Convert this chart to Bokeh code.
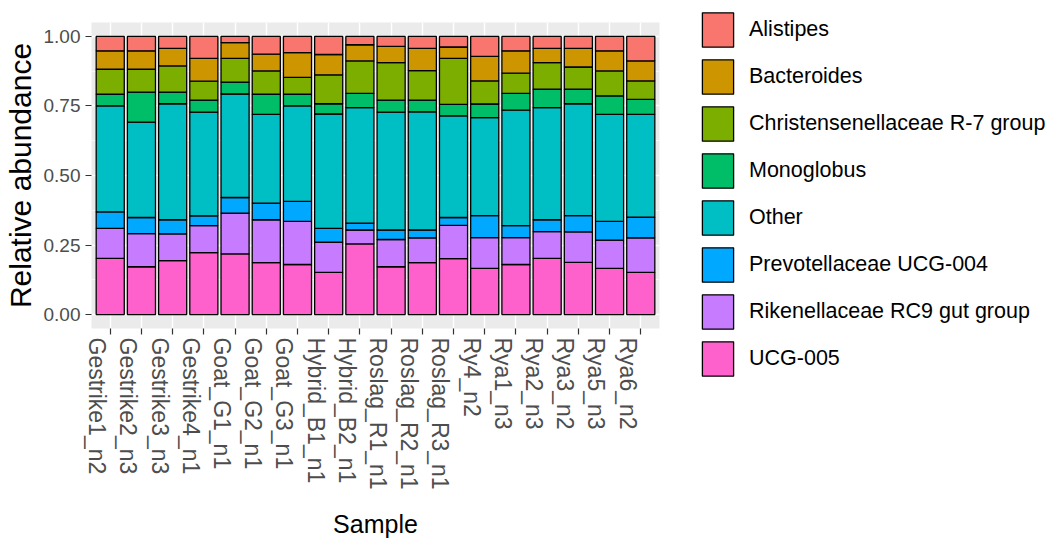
import math
from bokeh.plotting import figure
from bokeh.models import (ColumnDataSource, Range1d, FixedTicker, LinearAxis,
                          Legend, LegendItem, PrintfTickFormatter)
from bokeh.embed import file_html
from bokeh.resources import INLINE

samples = ["Gestrike1_n2", "Gestrike2_n3", "Gestrike3_n3", "Gestrike4_n1",
           "Goat_G1_n1", "Goat_G2_n1", "Goat_G3_n1", "Hybrid_B1_n1", "Hybrid_B2_n1",
           "Roslag_R1_n1", "Roslag_R2_n1", "Roslag_R3_n1", "Ry4_n2", "Rya1_n3",
           "Rya2_n3", "Rya3_n2", "Rya5_n3", "Rya6_n2"]

# stack order: bottom -> top
ucg005 = [0.202, 0.172, 0.194, 0.223, 0.218, 0.187, 0.180, 0.152, 0.254,
          0.172, 0.187, 0.201, 0.166, 0.180, 0.202, 0.188, 0.166, 0.152]
rikenellaceae = [0.108, 0.119, 0.096, 0.097, 0.147, 0.154, 0.155, 0.108, 0.050,
                 0.098, 0.089, 0.120, 0.111, 0.097, 0.096, 0.109, 0.102, 0.124]
prevotellaceae = [0.059, 0.058, 0.051, 0.035, 0.056, 0.060, 0.072, 0.050, 0.025,
                  0.034, 0.028, 0.028, 0.079, 0.043, 0.043, 0.059, 0.067, 0.074]
other = [0.381, 0.343, 0.417, 0.373, 0.372, 0.319, 0.343, 0.411, 0.415,
         0.424, 0.425, 0.365, 0.352, 0.415, 0.403, 0.402, 0.385, 0.370]
monoglobus = [0.042, 0.108, 0.042, 0.043, 0.043, 0.072, 0.042, 0.037, 0.051,
              0.043, 0.042, 0.042, 0.049, 0.060, 0.066, 0.052, 0.066, 0.054]
christensenellaceae = [0.090, 0.082, 0.094, 0.068, 0.085, 0.084, 0.061, 0.104, 0.117,
                       0.135, 0.106, 0.165, 0.083, 0.073, 0.096, 0.080, 0.090, 0.066]
bacteroides = [0.066, 0.066, 0.063, 0.082, 0.057, 0.060, 0.089, 0.073, 0.058,
               0.058, 0.080, 0.041, 0.088, 0.080, 0.051, 0.067, 0.072, 0.072]
alistipes = [0.052, 0.052, 0.043, 0.079, 0.022, 0.064, 0.058, 0.065, 0.030,
             0.036, 0.043, 0.038, 0.072, 0.052, 0.043, 0.043, 0.052, 0.088]

genera = ["UCG-005", "Rikenellaceae RC9 gut group", "Prevotellaceae UCG-004", "Other",
          "Monoglobus", "Christensenellaceae R-7 group", "Bacteroides", "Alistipes"]
series = [ucg005, rikenellaceae, prevotellaceae, other, monoglobus,
          christensenellaceae, bacteroides, alistipes]
colors = ["#FF61CC", "#C77CFF", "#00A9FF", "#00BFC4", "#00BE67", "#7CAE00",
          "#CD9600", "#F8766D"]

y_ticks = [0.0, 0.25, 0.5, 0.75, 1.0]
y_minor = [0.125, 0.375, 0.625, 0.875]

xs = list(range(1, len(samples) + 1))
keys = ["s%d" % i for i in range(len(genera))]
data = {"x": xs}
for k, s in zip(keys, series):
    data[k] = s
source = ColumnDataSource(data)

FONT = "Liberation Sans"
LEFT, TOP, FW, FH = 87, 22, 568, 306

p = figure(frame_width=FW, frame_height=FH, output_backend="svg", toolbar_location=None,
           x_range=Range1d(0.4, 18.6), y_range=Range1d(-0.05, 1.05),
           min_border_left=LEFT, min_border_right=0,
           min_border_top=TOP, min_border_bottom=0)
p.background_fill_color = "#EBEBEB"
p.border_fill_color = "white"
p.outline_line_color = None

renderers = p.vbar_stack(stackers=keys, x="x", width=0.9, source=source,
                         fill_color=colors, line_color="black", line_width=1.3)

# grids
p.xgrid.grid_line_color = "white"
p.xgrid.grid_line_width = 1.4
p.ygrid.grid_line_color = "white"
p.ygrid.grid_line_width = 1.4
p.ygrid.minor_grid_line_color = "white"
p.ygrid.minor_grid_line_width = 0.7

# y axis
yax = p.yaxis[0]
yax.ticker = FixedTicker(ticks=y_ticks, minor_ticks=y_minor)
yax.formatter = PrintfTickFormatter(format="%.2f")
yax.axis_line_color = None
yax.major_tick_in = 0
yax.major_tick_out = 6
yax.major_tick_line_color = "#333333"
yax.major_tick_line_width = 1.2
yax.minor_tick_in = 0
yax.minor_tick_out = 0
yax.major_label_text_font = FONT
yax.major_label_text_font_size = "19px"
yax.major_label_text_color = "#4D4D4D"
yax.major_label_standoff = 5
yax.axis_label = "Relative abundance"
yax.axis_label_text_font = FONT
yax.axis_label_text_font_size = "30px"
yax.axis_label_text_font_style = "normal"
yax.axis_label_text_color = "black"
yax.axis_label_standoff = 4

# x axis: tick marks at bar centres (no labels)
xax = p.xaxis[0]
xax.ticker = FixedTicker(ticks=xs)
xax.major_label_overrides = {x: "" for x in xs}
xax.axis_line_color = None
xax.major_tick_in = 0
xax.major_tick_out = 6
xax.major_tick_line_color = "#333333"
xax.major_tick_line_width = 1.2
xax.minor_tick_out = 0
xax.major_label_text_font_size = "10px"
xax.major_label_standoff = 0

# x axis: sample labels (slightly offset to the left, as in the original)
label_pos = [x - 0.42 for x in xs]
xlab = LinearAxis(ticker=FixedTicker(ticks=label_pos),
                  major_label_overrides={t: s for t, s in zip(label_pos, samples)})
xlab.axis_line_color = None
xlab.major_tick_in = 0
xlab.major_tick_out = 0
xlab.minor_tick_in = 0
xlab.minor_tick_out = 0
xlab.major_label_orientation = -math.pi / 2
xlab.major_label_text_font = FONT
xlab.major_label_text_font_size = "23px"
xlab.major_label_text_color = "#4D4D4D"
xlab.major_label_standoff = 3
xlab.axis_label = "Sample"
xlab.axis_label_text_font = FONT
xlab.axis_label_text_font_size = "25px"
xlab.axis_label_text_font_style = "normal"
xlab.axis_label_text_color = "black"
xlab.axis_label_standoff = 17
p.add_layout(xlab, "below")

# legend in the right side panel
GLYPH_W, GLYPH_H, SPACING = 39, 43, 4
leg_h = len(genera) * GLYPH_H + (len(genera) - 1) * SPACING
items = [LegendItem(label=g, renderers=[r]) for g, r in zip(genera, renderers)][::-1]
legend = Legend(items=items, location=(39, FH + 14 - leg_h), glyph_width=GLYPH_W,
                glyph_height=GLYPH_H, spacing=SPACING, padding=0, margin=0,
                label_standoff=12, label_height=GLYPH_H, label_text_font=FONT,
                label_text_font_size="21.5px", label_text_color="black",
                border_line_color=None, background_fill_alpha=0)
p.add_layout(legend, "right")

open("out.html", "w").write(file_html(p, INLINE))
